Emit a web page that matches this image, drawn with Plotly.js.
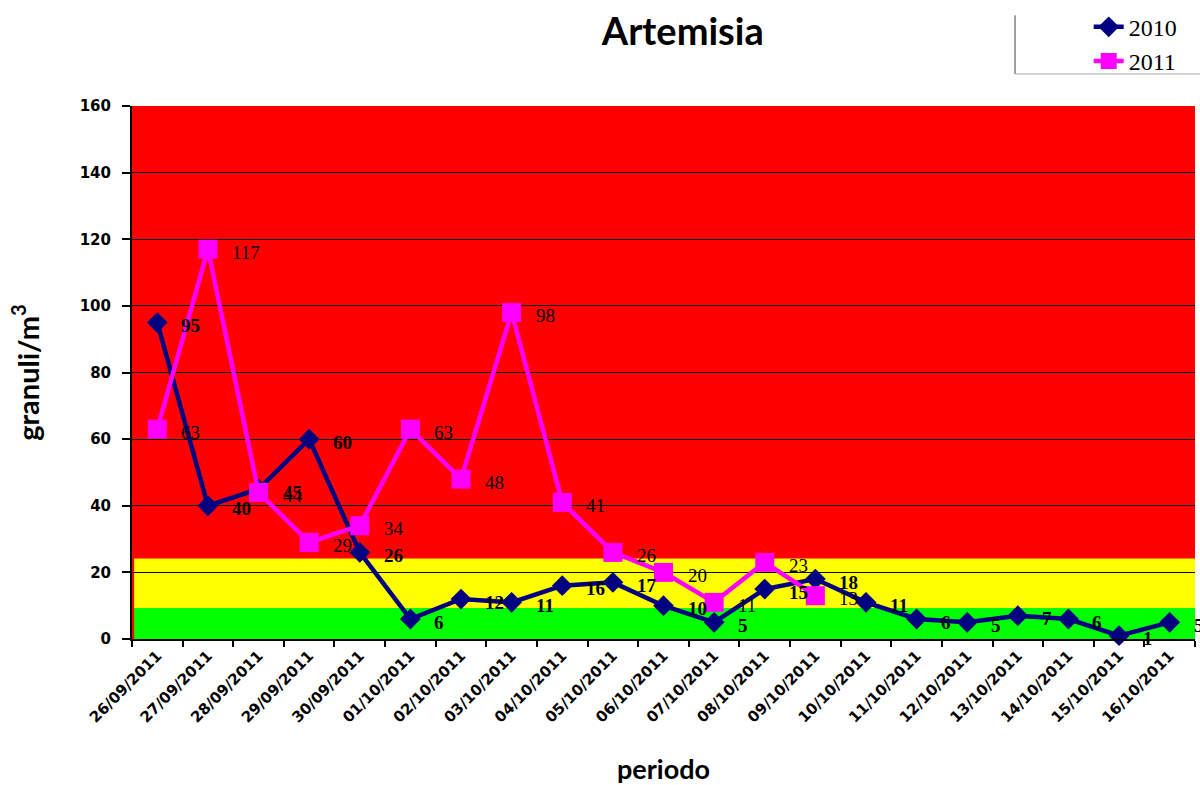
<!DOCTYPE html>
<html>
<head>
<meta charset="utf-8">
<script src="https://cdn.plot.ly/plotly-3.0.1.min.js"></script>
<style>html,body{margin:0;padding:0;background:#fff;}#chart{width:1200px;height:785px;}</style>
</head>
<body>
<div id="chart"></div>
<script>
const categories = ["26/09/2011","27/09/2011","28/09/2011","29/09/2011","30/09/2011","01/10/2011","02/10/2011","03/10/2011","04/10/2011","05/10/2011","06/10/2011","07/10/2011","08/10/2011","09/10/2011","10/10/2011","11/10/2011","12/10/2011","13/10/2011","14/10/2011","15/10/2011","16/10/2011"];
const values2010 = [95,40,45,60,26,6,12,11,16,17,10,5,15,18,11,6,5,7,6,1,5];
const values2011 = [63,117,44,29,34,63,48,98,41,26,20,11,23,13];
const yTicks = [0,20,40,60,80,100,120,140,160];
const bandGreenTop = 9.3;
const bandYellowTop = 24.2;

const traces = [
  {x: categories, y: values2010, name: "2010", type: "scatter", mode: "lines+markers",
   line: {color: "#000080", width: 4.5}, marker: {symbol: "diamond", size: 16, color: "#000080"}, cliponaxis: false},
  {x: categories.slice(0, values2011.length), y: values2011, name: "2011", type: "scatter", mode: "lines+markers",
   line: {color: "#FF00FF", width: 4.5}, marker: {symbol: "square", size: 19, color: "#FF00FF"}, cliponaxis: false}
];

const labelFont = {family: "Liberation Serif, serif", size: 19, color: "#000"};
const annotations = [];
values2010.forEach((v, i) => annotations.push({x: categories[i], y: v, text: "<b>" + v + "</b>", showarrow: false,
  xanchor: "left", yanchor: "middle", xshift: 22, yshift: -3, font: labelFont}));
values2011.forEach((v, i) => annotations.push({x: categories[i], y: v, text: String(v), showarrow: false,
  xanchor: "left", yanchor: "middle", xshift: 22, yshift: -3, font: labelFont}));

const layout = {
  width: 1200, height: 785,
  margin: {l: 132, r: 5, t: 102, b: 146},
  paper_bgcolor: "#ffffff",
  plot_bgcolor: "#ff0000",
  showlegend: true,
  title: {text: "<b>Artemisia</b>", x: 0.569, xanchor: "center", y: 0.96, yanchor: "middle",
          font: {family: "Lato, sans-serif", size: 38, color: "#000"}},
  xaxis: {type: "category", tickmode: "array", tickvals: categories, ticktext: categories, tickangle: -45,
          tickson: "boundaries", ticks: "outside", ticklen: 6, tickwidth: 2, tickcolor: "#000",
          showline: true, linecolor: "#000", linewidth: 2, showgrid: false, range: [-0.5, 20.5],
          tickfont: {family: "DejaVu Sans, sans-serif", size: 15, color: "#000", weight: "bold"},
          automargin: false,
          title: {text: "<b>periodo</b>", font: {family: "Lato, sans-serif", size: 27, color: "#000"}, standoff: 36}},
  yaxis: {range: [0, 160], tickmode: "array", tickvals: yTicks, ticktext: yTicks.map(String),
          ticks: "outside", ticklen: 8, tickwidth: 2, tickcolor: "#000", ticklabelstandoff: 8,
          showline: true, linecolor: "#000", linewidth: 2,
          showgrid: true, gridcolor: "#000", gridwidth: 1, zeroline: false, automargin: false,
          tickfont: {family: "DejaVu Sans, sans-serif", size: 15, color: "#000", weight: "bold"},
          title: {text: "<b>granuli/m<sup>3</sup></b>", font: {family: "Lato, sans-serif", size: 29, color: "#000"}, standoff: 32}},
  legend: {x: 0.9, xanchor: "left", y: 1.19, yanchor: "top", bgcolor: "rgba(0,0,0,0)",
           font: {family: "Liberation Serif, serif", size: 24, color: "#000"}, tracegroupgap: 0},
  shapes: [
    {type: "rect", xref: "paper", yref: "y", x0: 0.002, x1: 1, y0: 0, y1: bandGreenTop, fillcolor: "#00ff00", line: {width: 0}, layer: "below"},
    {type: "rect", xref: "paper", yref: "y", x0: 0.002, x1: 1, y0: bandGreenTop, y1: bandYellowTop, fillcolor: "#ffff00", line: {width: 0}, layer: "below"},
    {type: "line", xref: "paper", yref: "paper", x0: 0.8307, x1: 0.8307, y0: 1.06, y1: 1.17, line: {color: "#444", width: 1}},
    {type: "line", xref: "paper", yref: "paper", x0: 0.8307, x1: 1.01, y0: 1.06, y1: 1.06, line: {color: "#aaa", width: 1}}
  ],
  annotations: annotations,
  hovermode: false
};

Plotly.newPlot("chart", traces, layout, {displayModeBar: false, staticPlot: true});
</script>
</body>
</html>
